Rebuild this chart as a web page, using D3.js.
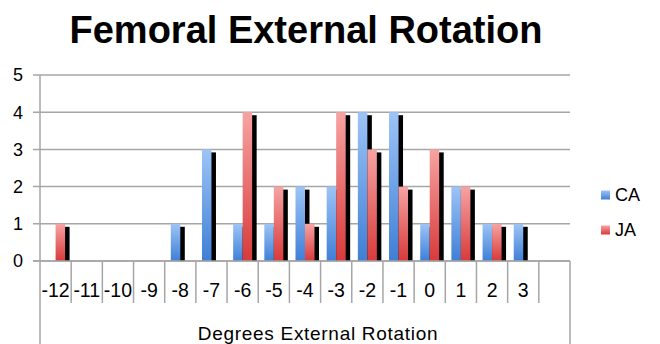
<!DOCTYPE html>
<html>
<head>
<meta charset="utf-8">
<script src="https://cdn.jsdelivr.net/npm/d3@7"></script>
<style>
  body { margin: 0; background: #fff; }
  svg { display: block; font-family: "Liberation Sans", Arial, Helvetica, sans-serif; }
</style>
</head>
<body>
<div id="chart"></div>
<script>
// ==========================================
// 1. DATA
// ==========================================

const categories = ["-12", "-11", "-10", "-9", "-8", "-7", "-6", "-5", "-4", "-3", "-2", "-1", "0", "1", "2", "3", ""];
const seriesNames = ["CA", "JA"];
const caValues = [0, 0, 0, 0, 1, 3, 1, 1, 2, 2, 4, 4, 1, 2, 1, 1, null];
const jaValues = [1, 0, 0, 0, 0, 0, 4, 2, 1, 4, 3, 2, 3, 2, 1, 0, null];
const yTicks = [0, 1, 2, 3, 4, 5];

const chartTitle = "Femoral External Rotation";
const xTitle = "Degrees External Rotation";

// ==========================================
// 2. LAYOUT
// ==========================================

const width = 660, height = 344;
const plotLeft = 40, plotRight = 570, plotTop = 75, plotBottom = 261;

const svg = d3.select("#chart").append("svg")
    .attr("width", width).attr("height", height);

const defs = svg.append("defs");
function grad(id, c1, c2) {
    const g = defs.append("linearGradient").attr("id", id)
        .attr("x1", 0).attr("y1", 0).attr("x2", 0).attr("y2", 1);
    g.append("stop").attr("offset", "0%").attr("stop-color", c1);
    g.append("stop").attr("offset", "100%").attr("stop-color", c2);
}
grad("gCA", "#9dc4f6", "#3f7fd6");
grad("gJA", "#f7a3a3", "#d83a3a");
const fills = ["url(#gCA)", "url(#gJA)"];

const x = d3.scaleBand().domain(categories.map((c, i) => i)).range([plotLeft, plotRight]).padding(0);
const xs = d3.scaleBand().domain([0, 1]).range([0, 19]).padding(0);
const y = d3.scaleLinear().domain([0, 5]).range([plotBottom, plotTop]);

// Grille + labels Y
svg.append("g").selectAll("line").data(yTicks).enter().append("line")
    .attr("x1", plotLeft - 7).attr("x2", plotRight)
    .attr("y1", d => y(d)).attr("y2", d => y(d))
    .attr("stroke", "#a6a6a6").attr("stroke-width", 1.5);

svg.append("g").selectAll("text").data(yTicks).enter().append("text")
    .attr("x", 23).attr("y", d => y(d)).attr("dy", "0.35em")
    .attr("text-anchor", "end").style("font-size", "18px").text(d => d);

// Separateurs de categories
const bounds = d3.range(categories.length + 1).map(i => plotLeft + i * x.bandwidth());
svg.append("g").selectAll("line").data(bounds).enter().append("line")
    .attr("x1", d => d).attr("x2", d => d)
    .attr("y1", plotBottom)
    .attr("y2", (d, i) => (i === 0 || i === categories.length) ? height : 303)
    .attr("stroke", "#a6a6a6").attr("stroke-width", 1.5);

// Axe vertical
svg.append("line").attr("x1", plotLeft).attr("x2", plotLeft).attr("y1", plotTop).attr("y2", plotBottom)
    .attr("stroke", "#a6a6a6").attr("stroke-width", 1.5);

// ==========================================
// 3. BARS
// ==========================================

const rows = [];
categories.forEach((c, i) => {
    [caValues[i], jaValues[i]].forEach((v, s) => {
        if (v) rows.push({ i: i, s: s, v: v });
    });
});
const gap = (x.bandwidth() - 19) / 2;
const bx = d => x(d.i) + gap + xs(d.s);

// Ombres d'abord
svg.append("g").selectAll("rect").data(rows).enter().append("rect")
    .attr("x", d => bx(d) + 4.5).attr("y", d => y(d.v) + 3)
    .attr("width", xs.bandwidth()).attr("height", d => plotBottom - y(d.v) - 3)
    .attr("fill", "#000");

svg.append("g").selectAll("rect").data(rows).enter().append("rect")
    .attr("x", d => bx(d)).attr("y", d => y(d.v))
    .attr("width", xs.bandwidth()).attr("height", d => plotBottom - y(d.v))
    .attr("fill", d => fills[d.s]);

// Ligne zero par dessus
svg.append("line").attr("x1", plotLeft - 7).attr("x2", plotRight).attr("y1", plotBottom).attr("y2", plotBottom)
    .attr("stroke", "#a6a6a6").attr("stroke-width", 1.5);

// Labels X
svg.append("g").selectAll("text").data(categories).enter().append("text")
    .attr("x", (d, i) => x(i) + x.bandwidth() / 2).attr("y", 297)
    .attr("text-anchor", "middle").style("font-size", "19.5px").text(d => d);

// ==========================================
// 4. TITLES + LEGEND
// ==========================================

svg.append("text").attr("x", 306).attr("y", 43).attr("text-anchor", "middle")
    .style("font-size", "38px").style("font-weight", "bold").text(chartTitle);

svg.append("text").attr("x", 318).attr("y", 340).attr("text-anchor", "middle")
    .style("font-size", "19px").style("letter-spacing", "0.7px").text(xTitle);

const legend = svg.append("g").selectAll("g").data(seriesNames).enter().append("g")
    .attr("transform", (d, i) => `translate(601,${195 + i * 35})`);
legend.append("rect").attr("x", 0).attr("y", -4.5).attr("width", 9).attr("height", 9)
    .attr("fill", (d, i) => fills[i]);
legend.append("text").attr("x", 14).attr("dy", "0.35em")
    .style("font-size", "18px").text(d => d);
</script>
</body>
</html>
